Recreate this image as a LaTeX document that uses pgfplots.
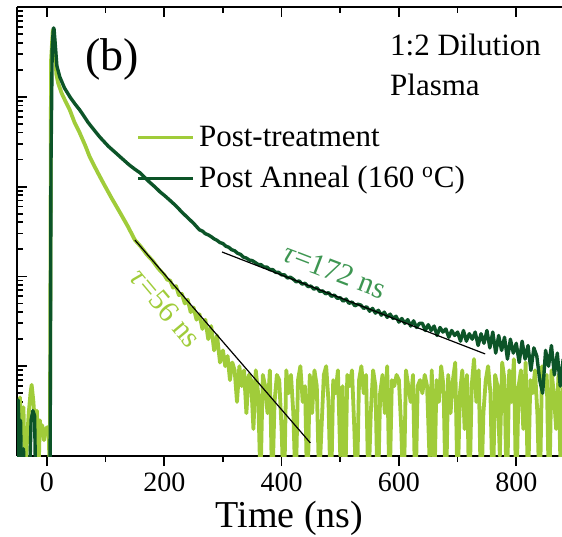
\documentclass[border=0pt]{standalone}
\usepackage{pgfplots}
\pgfplotsset{compat=1.18}
\usepackage{fontspec}
\setmainfont{Liberation Serif}
\usetikzlibrary{calc}
\definecolor{lgreen}{RGB}{160,204,58}
\definecolor{dgreen}{RGB}{12,84,40}
\definecolor{mgreen}{RGB}{62,150,82}
\begin{document}
\begin{tikzpicture}
\begin{axis}[
  name=main,
  scale only axis, width=272.5pt, height=224.5pt,
  xmin=-51, xmax=878, ymode=log, ymin=1, ymax=1e5,
  axis x line*=bottom, axis y line*=left,
  axis line style={line width=1pt},
  xtick={0,200,400,600,800}, minor xtick={100,300,500,700},
  xtick align=outside, ytick align=inside,
  major tick length=5pt, minor tick length=3pt,
  every tick/.style={black, line width=0.9pt},
  yticklabels={},
  /pgf/number format/assume math mode=true,
  ticklabel style={font=\fontsize{14}{16}\selectfont},
  xlabel={Time (ns)},
  xlabel style={font=\fontsize{19}{22}\selectfont, at={(axis description cs:0.5,0)}, anchor=base, yshift=-35.5pt},
  clip=true,
  legend style={at={(rel axis cs:0.218,0.745)}, anchor=north west, draw=none, fill=none,
    font=\fontsize{15.5}{18}\selectfont, row sep=4.5pt, inner sep=0pt},
  legend cell align=left,
  legend image code/.code={\draw[#1] (0pt,0pt) -- (27.5pt,0pt);},
]
\addplot[lgreen, line width=1.9pt, line join=round] coordinates {
(-51,0.4) (-49,2) (-46,4.5) (-43,1.5) (-40,3.5) (-37,0.4) (-34,1.5) (-31,3) (-28,5) (-26,6.2)
(-23,4) (-20,2) (-17,3.2) (-15,0.4) (-12,2.5) (-10,1.8) (-8,2.2) (-5,1.5) (-2,2) (1,2.1) (3,1.8)
(5,0.6) (7,25000) (10,55500) (13,40000) (16,18000) (19,14300) (25,11000) (32,8800) (39,7130)
(47,5200) (56,3950) (65,2900) (73,2140) (85,1500) (96,1100) (110,750) (125,508) (138,360)
(150,254) (160,215) (170,176) (180,150) (190,122) (200,104) (205,92) (210,90) (215,75) (220,78)
(225,62) (230,64) (235,50) (240,55) (245,40) (250,45) (255,33) (260,38) (265,26) (270,33)
(275,20) (280,28) (285,15) (290,22) (295,11)
(300,15) (304,10) (308,13) (312,7) (316,11) (320,9) (324,4) (328,10) (332,6) (336,9)
(340,3) (344,8) (348,7) (352,2) (356,9) (360,5) (364,0.5) (368,8) (372,6) (376,3)
(380,9) (384,0.4) (388,4) (392,8) (396,7) (400,2) (404,0.3) (408,9) (412,5) (416,8)
(420,3) (424,0.4) (428,7) (432,10) (436,4) (440,6) (444,0.3) (448,8) (452,3) (456,9)
(460,6) (464,0.5) (468,2) (472,8) (476,10) (480,4) (484,0.3) (488,7) (492,5) (496,9)
(500,1) (504,6) (508,0.3) (512,8) (516,6) (520,9) (524,2) (528,0.3) (532,7) (536,10)
(540,5) (544,8) (548,0.4) (552,3) (556,9) (560,6) (564,0.3) (568,5) (572,8) (576,3)
(580,10) (584,0.4) (588,7) (592,6) (596,8) (600,7) (604,2) (608,0.3) (612,9) (616,6)
(620,4) (624,8) (628,0.3) (632,6) (636,7) (640,5) (644,8) (648,6) (652,1) (656,9)
(660,0.3) (664,7) (668,4) (672,10) (676,6) (680,0.3) (684,8) (688,3) (692,7) (696,11)
(700,0.4) (704,5) (708,9) (712,2) (716,8) (720,0.3) (724,6) (728,12) (732,4) (736,9)
(740,0.3) (744,3) (748,7) (752,10) (756,5) (760,0.3) (764,8) (768,6) (772,1) (776,11)
(780,7) (784,0.3) (788,9) (792,4) (796,12) (800,0.3) (804,6) (808,9) (812,2) (816,11)
(820,0.4) (824,7) (828,5) (832,9) (836,3) (840,0.3) (844,10) (848,6) (852,8) (856,0.3)
(860,9) (864,5) (868,2) (872,8) (876,0.5) (880,6)
};
\addlegendentry{Post-treatment}
\addplot[dgreen, line width=1.7pt, line join=round] coordinates {
(-51,0.5) (-49,4.2) (-47,1.5) (-45,2.5) (-43,0.5) (-40,1.2) (-37,0.4) (-34,0.8) (-30,0.4)
(-27,2.5) (-24,3.2) (-21,2.8) (-19,0.4) (-15,0.6) (-10,0.4) (-5,0.5) (0,0.4) (4,0.5)
(5.5,1) (7,2000) (9,35000) (11,58300) (12,58300) (14,40000) (17,22000) (22,16600) (30,12500)
(40,9800) (48,8300) (56,7130) (63,6100) (70,5200) (80,4300) (90,3570) (105,2800) (115,2450)
(125,2140) (140,1750) (150,1560) (159,1420) (175,1120) (185,980) (193,871) (200,800)
(210,700) (220,610) (230,520) (240,450) (250,390) (260,330)
(265,320) (270,299) (275,290) (280,277) (285,262) (290,252) (295,238) (300,232) (305,217)
(310,211) (315,198) (320,193) (325,181) (330,176) (335,164) (340,160) (345,152) (350,150)
(355,143) (360,136) (365,135) (370,127) (375,127) (380,119) (385,119) (390,111) (395,111)
(400,104) (405,104) (410,96) (415,98) (420,93) (425,87) (430,89) (435,82) (440,84)
(445,77) (450,78) (455,72) (460,75) (465,68) (470,69) (475,64) (480,66) (485,60) (490,62)
(495,57) (500,58) (505,53) (510,56) (515,50) (520,52) (525,47) (530,49) (535,48) (540,44)
(545,46) (550,41) (555,44) (560,39) (565,42) (570,37) (575,40) (580,35) (585,38) (590,34)
(595,36) (600,31) (605,34) (610,30) (615,33) (620,28) (625,32) (630,27) (635,30) (640,30)
(645,25) (650,29) (655,25) (660,28) (665,22) (670,27) (675,24) (680,26) (685,21) (690,25)
(695,22) (700,24) (705,19) (710,25) (715,19) (720,23) (725,20) (730,24) (735,17) (740,23)
(745,18) (750,25) (755,16) (760,24) (765,14) (770,22) (775,15) (780,21) (785,12) (790,20)
(795,14) (800,18) (805,11) (810,19) (815,12) (820,17) (825,9) (830,16) (835,13) (840,7)
(845,5) (850,15) (855,10) (860,17) (865,8) (870,14) (875,6) (880,12)
};
\addlegendentry{Post Anneal (160 \textsuperscript{o}C)}
\addplot[black, line width=0.6pt, forget plot] coordinates {(150,254) (449,1.4)};
\addplot[black, line width=0.6pt, forget plot] coordinates {(298.5,187) (747,13.7)};
\node[anchor=base west, font=\fontsize{23}{26}\selectfont, inner sep=0pt] at (rel axis cs:0.1248,0.8575) {(b)};
\node[anchor=base west, font=\fontsize{15.5}{18}\selectfont, inner sep=0pt] at (rel axis cs:0.684,0.893) {1:2 Dilution};
\node[anchor=base west, font=\fontsize{15.5}{18}\selectfont, inner sep=0pt] at (rel axis cs:0.684,0.804) {Plasma};
\node[rotate=-21, text=mgreen, font=\fontsize{15}{18}\selectfont, inner sep=0pt] at (axis cs:491,115) {\textit{τ}=172 ns};
\node[rotate=-50, text=lgreen, font=\fontsize{15}{18}\selectfont, inner sep=0pt] at (axis cs:203,44.5) {\textit{τ}=56 ns};
\end{axis}
\begin{axis}[
  scale only axis, width=272.5pt, height=224.5pt,
  xmin=-51, xmax=878, ymode=log, ymin=1, ymax=1e5,
  axis x line*=top, axis y line=none,
  axis line style={line width=1pt},
  xtick={0,200,400,600,800}, minor xtick={100,300,500,700},
  xticklabels={}, ytick=\empty,
  xtick align=inside,
  major tick length=5pt, minor tick length=3pt,
  every tick/.style={black, line width=0.9pt},
]
\end{axis}
\pgfresetboundingbox
\path[use as bounding box] ($(main.south west)+(-8.5pt,-40pt)$) rectangle ($(main.north east)+(0pt,3.5pt)$);
\end{tikzpicture}
\end{document}
